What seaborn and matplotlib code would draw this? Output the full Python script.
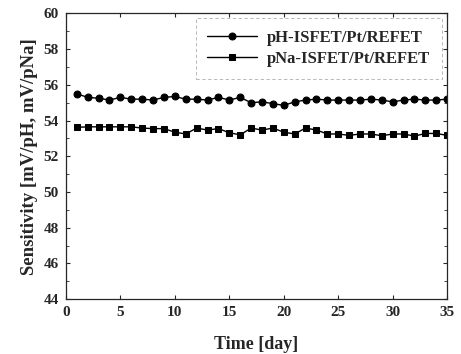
import pandas as pd
import numpy as np
import matplotlib
matplotlib.use('Agg')
import matplotlib.pyplot as plt
import seaborn as sns

# 데이터
days = list(range(1, 36))
ph_sens = [55.5, 55.3, 55.25, 55.15, 55.3, 55.2, 55.2, 55.15, 55.3, 55.35,
           55.2, 55.2, 55.15, 55.3, 55.15, 55.3, 55.0, 55.05, 54.95, 54.85,
           55.05, 55.15, 55.2, 55.15, 55.15, 55.15, 55.15, 55.2, 55.15, 55.05,
           55.15, 55.2, 55.15, 55.15, 55.2]
pna_sens = [53.62, 53.65, 53.65, 53.65, 53.65, 53.65, 53.58, 53.55, 53.55, 53.35,
            53.25, 53.58, 53.47, 53.55, 53.32, 53.2, 53.58, 53.47, 53.58, 53.35,
            53.25, 53.58, 53.47, 53.25, 53.25, 53.17, 53.25, 53.25, 53.15, 53.25,
            53.25, 53.13, 53.28, 53.28, 53.17]
series_names = ['pH-ISFET/Pt/REFET', 'pNa-ISFET/Pt/REFET']

df = pd.DataFrame({
    'day': days * 2,
    'sens': ph_sens + pna_sens,
    'sensor': [series_names[0]] * len(days) + [series_names[1]] * len(days),
})

sns.set_style('ticks')
plt.rcParams['font.family'] = ['Liberation Serif', 'DejaVu Serif']
plt.rcParams['font.weight'] = 'bold'

fig = plt.figure(figsize=(4.61, 3.54), dpi=100)
ax = fig.add_axes([0.143, 0.155, 0.827, 0.807])

sns.lineplot(data=df, x='day', y='sens', hue='sensor', style='sensor',
             palette=['black', 'black'], markers=['o', 's'], dashes=False,
             markersize=5, markeredgecolor='black', linewidth=1.0, ax=ax)

ax.set_xlim(0, 35)
ax.set_ylim(44, 60)
ax.set_xticks(range(0, 36, 5))
ax.set_yticks(range(44, 61, 2))
ax.set_yticks(np.arange(44, 60.1, 1), minor=True)
ax.tick_params(direction='in', labelsize=11, width=0.8, length=3, top=True, right=True, pad=5)
ax.tick_params(which='minor', direction='in', length=2, left=True, right=True)
for lab in ax.get_xticklabels() + ax.get_yticklabels():
    lab.set_fontweight('bold')
for s in ax.spines.values():
    s.set_linewidth(0.9)
    s.set_visible(True)

ax.set_xlabel('Time [day]', fontsize=13, fontweight='bold', labelpad=12)
ax.set_ylabel('Sensitivity [mV/pH, mV/pNa]', fontsize=13.5, fontweight='bold', labelpad=4)

leg = ax.legend(loc='upper right', fontsize=12, frameon=True, fancybox=False,
                handlelength=3.0, borderaxespad=0.3, labelspacing=0.3,
                borderpad=0.7, handletextpad=0.6)
leg.get_frame().set_edgecolor('#999999')
leg.get_frame().set_linestyle((0, (4, 3)))
leg.get_frame().set_linewidth(0.6)
for t in leg.get_texts():
    t.set_fontweight('bold')

fig.savefig('out.png', dpi=100)
